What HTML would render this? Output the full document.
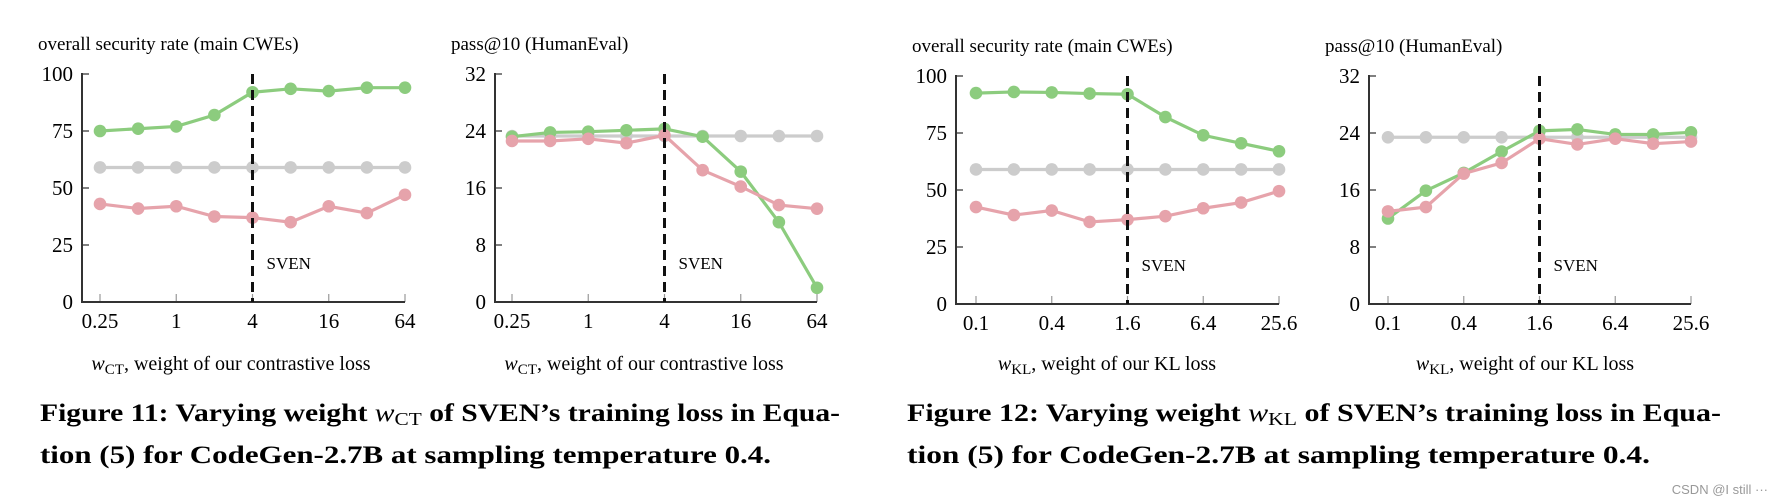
<!DOCTYPE html>
<html><head><meta charset="utf-8"><style>
html,body{margin:0;padding:0;background:#fff;}
svg{display:block;font-family:"Liberation Serif",serif;}
</style></head><body>
<svg id="fig" width="1774" height="502" viewBox="0 0 1774 502" xmlns="http://www.w3.org/2000/svg">
<g id="charts"></g>
<text x="231" y="370" font-size="20" text-anchor="middle"><tspan font-style="italic">w</tspan><tspan font-size="15" dy="4">CT</tspan><tspan dy="-4">, weight of our contrastive loss</tspan></text>
<text x="644" y="370" font-size="20" text-anchor="middle"><tspan font-style="italic">w</tspan><tspan font-size="15" dy="4">CT</tspan><tspan dy="-4">, weight of our contrastive loss</tspan></text>
<text x="1107" y="370" font-size="20" text-anchor="middle"><tspan font-style="italic">w</tspan><tspan font-size="15" dy="4">KL</tspan><tspan dy="-4">, weight of our KL loss</tspan></text>
<text x="1525" y="370" font-size="20" text-anchor="middle"><tspan font-style="italic">w</tspan><tspan font-size="15" dy="4">KL</tspan><tspan dy="-4">, weight of our KL loss</tspan></text>
<g font-weight="bold" font-size="25">
<text x="40" y="421" textLength="800" lengthAdjust="spacingAndGlyphs">Figure 11: Varying weight <tspan font-style="italic" font-weight="normal">w</tspan><tspan font-size="18" font-weight="normal" dy="4">CT</tspan><tspan dy="-4"> of SVEN’s training loss in Equa-</tspan></text>
<text x="40" y="463" textLength="731" lengthAdjust="spacingAndGlyphs">tion (5) for CodeGen-2.7B at sampling temperature 0.4.</text>
<text x="907" y="421" textLength="814" lengthAdjust="spacingAndGlyphs">Figure 12: Varying weight <tspan font-style="italic" font-weight="normal">w</tspan><tspan font-size="18" font-weight="normal" dy="4">KL</tspan><tspan dy="-4"> of SVEN’s training loss in Equa-</tspan></text>
<text x="907" y="463" textLength="743" lengthAdjust="spacingAndGlyphs">tion (5) for CodeGen-2.7B at sampling temperature 0.4.</text>
</g>
<text x="1768" y="494" font-size="13" fill="#999" text-anchor="end" font-family="Liberation Sans, sans-serif">CSDN @I still ···</text>
</svg>
<script>
const ticksCT = ["0.25","1","4","16","64"];
const ticksKL = ["0.1","0.4","1.6","6.4","25.6"];
const secTicks = [0,25,50,75,100];
const passTicks = [0,8,16,24,32];
const c1Green = [75,76,77,82,92,93.5,92.5,94,94];
const c1Gray = [59,59,59,59,59,59,59,59,59];
const c1Pink = [43,41,42,37.5,37,35,42,39,47];
const c2Green = [23.2,23.8,23.9,24.1,24.3,23.2,18.3,11.2,2.0];
const c2Gray = [23.3,23.3,23.3,23.3,23.3,23.3,23.3,23.3,23.3];
const c2Pink = [22.6,22.6,22.9,22.3,23.4,18.5,16.2,13.6,13.1];
const c3Green = [92.5,93,92.8,92.3,92,82,74,70.5,67];
const c3Gray = [59,59,59,59,59,59,59,59,59];
const c3Pink = [42.5,39,41,36,37,38.5,42,44.5,49.5];
const c4Green = [12,15.9,18.4,21.4,24.3,24.5,23.8,23.8,24.1];
const c4Gray = [23.4,23.4,23.4,23.4,23.4,23.4,23.4,23.4,23.4];
const c4Pink = [13.0,13.6,18.3,19.8,23.2,22.4,23.2,22.5,22.8];
const svenIndex = 4;

const NS="http://www.w3.org/2000/svg";
const root=document.getElementById('charts');
function mk(tag,attrs,parent){const e=document.createElementNS(NS,tag);for(const k in attrs)e.setAttribute(k,attrs[k]);parent.appendChild(e);return e;}

function chart(id,title,axX,x0,x1,top,bot,yTicks,xTicks,series){
  const g=mk('g',{},root);
  
  
  const ymax=yTicks[yTicks.length-1];
  const n=series[0].vals.length;
  const sx=i=>x0+(x1-x0)*i/(n-1);
  const sy=v=>bot-(bot-top)*v/ymax;
  const t=mk('text',{x:axX-44,y:top-24,'font-size':19},g);t.textContent=title;
  
  
  yTicks.forEach(v=>{
    const y=sy(v);
    mk('line',{x1:axX,x2:axX+7,y1:y,y2:y,stroke:'#555','stroke-width':1.5},g);
    const l=mk('text',{x:axX-9,y:y+7,'font-size':21,'text-anchor':'end'},g);l.textContent=v;
    
    
  });
  xTicks.forEach((s,k)=>{
    const x=sx(k*2);
    mk('line',{x1:x,x2:x,y1:bot,y2:bot-8,stroke:'#999','stroke-width':1.2},g);
    const l=mk('text',{x:x,y:bot+26,'font-size':21,'text-anchor':'middle'},g);l.textContent=s;
    
    
  });
  mk('path',{d:`M${axX} ${top-1}V${bot}H${x1}`,fill:'none',stroke:'#333','stroke-width':2},g);
  series.forEach(s=>{
    const sg=mk('g',{},g);
    
    
    mk('polyline',{points:s.vals.map((v,i)=>sx(i)+','+sy(v)).join(' '),fill:'none',stroke:s.color,'stroke-width':3.2},sg);
    s.vals.forEach((v,i)=>{
      const c=mk('circle',{cx:sx(i),cy:sy(v),r:6.3,fill:s.color},sg);
      
      
    });
  });
  const dx=sx(svenIndex);
  const dl=mk('line',{x1:dx,x2:dx,y1:top,y2:bot,stroke:'#111','stroke-width':3,'stroke-dasharray':'10 6'},g);
  
  
  const st=mk('text',{x:dx+14,y:top+195,'font-size':17},g);st.textContent='SVEN';
  
  
}
const G='#8ccc7e',Y='#cccccc',P='#e6a3ab';
chart('chart-security-ct','overall security rate (main CWEs)',82,100,405,74,302,secTicks,ticksCT,
 [{name:'series-gray',vals:c1Gray,color:Y},{name:'series-pink',vals:c1Pink,color:P},{name:'series-green',vals:c1Green,color:G}]);
chart('chart-pass-ct','pass@10 (HumanEval)',495,512,817,74,302,passTicks,ticksCT,
 [{name:'series-gray',vals:c2Gray,color:Y},{name:'series-green',vals:c2Green,color:G},{name:'series-pink',vals:c2Pink,color:P}]);
chart('chart-security-kl','overall security rate (main CWEs)',956,976,1279,76,304,secTicks,ticksKL,
 [{name:'series-gray',vals:c3Gray,color:Y},{name:'series-pink',vals:c3Pink,color:P},{name:'series-green',vals:c3Green,color:G}]);
chart('chart-pass-kl','pass@10 (HumanEval)',1369,1388,1691,76,304,passTicks,ticksKL,
 [{name:'series-gray',vals:c4Gray,color:Y},{name:'series-green',vals:c4Green,color:G},{name:'series-pink',vals:c4Pink,color:P}]);
</script>
</body></html>
